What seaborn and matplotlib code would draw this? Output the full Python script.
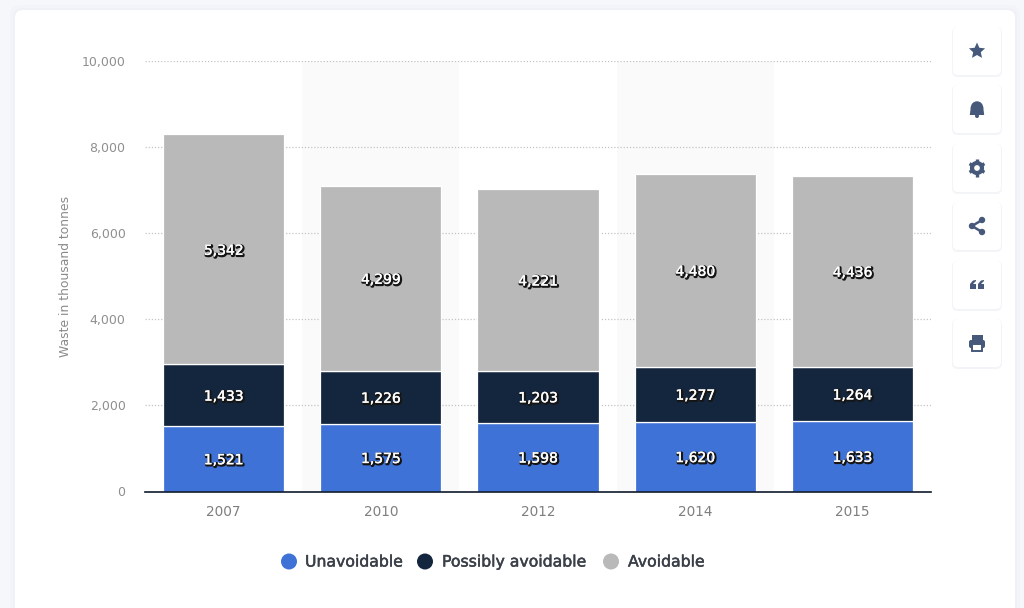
import matplotlib
matplotlib.use("Agg")
import matplotlib.pyplot as plt
import matplotlib.patheffects as pe
from matplotlib.patches import FancyBboxPatch, Circle, Rectangle, Polygon
import seaborn as sns
import pandas as pd
import numpy as np

years = ["2007", "2010", "2012", "2014", "2015"]
unavoidable = [1521, 1575, 1598, 1620, 1633]
possibly = [1433, 1226, 1203, 1277, 1264]
avoidable = [5342, 4299, 4221, 4480, 4436]
series_names = ["Unavoidable", "Possibly avoidable", "Avoidable"]
colors = ["#3f72d6", "#14263d", "#b9b9b9"]
yticks = [0, 2000, 4000, 6000, 8000, 10000]
ylabel = "Waste in thousand tonnes"

W, H = 1024, 608
sns.set_theme(style="white")
plt.rcParams["font.family"] = ["DejaVu Sans"]
fig = plt.figure(figsize=(W / 100, H / 100), dpi=100, facecolor="#f6f7fb")

# page overlay in pixel coordinates
bg = fig.add_axes([0, 0, 1, 1], zorder=0)
bg.set_xlim(0, W); bg.set_ylim(H, 0); bg.axis("off")
for grow, col in [(5, "#f3f4f9"), (2, "#f0f1f7")]:
    bg.add_patch(FancyBboxPatch((15 - grow, 10 - grow), 1000 + 2 * grow, 640,
                                boxstyle="round,pad=0,rounding_size=10", fc=col, ec="none"))
bg.add_patch(FancyBboxPatch((15, 10), 1000, 640, boxstyle="round,pad=0,rounding_size=8",
                            fc="white", ec="none"))
ic = "#46597a"
tops = [27, 85, 144, 202, 261, 319]
for t in tops:
    bg.add_patch(FancyBboxPatch((952, t), 50, 50, boxstyle="round,pad=0,rounding_size=6",
                                fc="#f3f4f8", ec="none"))
    bg.add_patch(FancyBboxPatch((953, t), 48, 48, boxstyle="round,pad=0,rounding_size=5",
                                fc="white", ec="none"))
cx = 977
# star
c = tops[0] + 24
ang = np.deg2rad(np.arange(10) * 36 - 90)
rad = np.array([8.5, 4.0] * 5)
bg.add_patch(Polygon(np.c_[cx + rad * np.cos(ang), c + rad * np.sin(ang)], fc=ic, ec="none"))
# bell
c = tops[1] + 24
bg.add_patch(Circle((cx, c - 1.5), 6.2, fc=ic, ec="none"))
bg.add_patch(Polygon([(cx - 6.2, c - 2), (cx + 6.2, c - 2), (cx + 7.2, c + 6), (cx - 7.2, c + 6)], fc=ic, ec="none"))
bg.add_patch(Circle((cx, c + 7), 2, fc=ic, ec="none"))
# gear
c = tops[2] + 24
bg.add_patch(Circle((cx, c), 5, fc="white", ec=ic, lw=3.0))
for a in np.deg2rad(np.arange(0, 360, 60) + 30):
    bg.plot([cx + 6 * np.cos(a), cx + 8.6 * np.cos(a)], [c + 6 * np.sin(a), c + 8.6 * np.sin(a)],
            color=ic, lw=2.4, solid_capstyle="butt")
# share
c = tops[3] + 24
pts = [(cx + 5, c - 6), (cx - 5, c), (cx + 5, c + 6)]
bg.plot(*zip(*pts), color=ic, lw=1.8)
for p in pts:
    bg.add_patch(Circle(p, 3.2, fc=ic, ec="none"))
# quote
c = tops[4] + 24
for x in (cx - 7, cx + 1):
    bg.add_patch(Polygon([(x, c + 4), (x + 6, c + 4), (x + 6, c - 1), (x + 3, c - 1), (x + 6, c - 4),
                          (x + 6, c - 5), (x + 3, c - 4.5), (x, c - 1)], fc=ic, ec="none"))
# printer
c = tops[5] + 24
bg.add_patch(FancyBboxPatch((cx - 8, c - 3), 16, 8, boxstyle="round,pad=0,rounding_size=2", fc=ic, ec="none"))
bg.add_patch(Rectangle((cx - 5.5, c - 8), 11, 5, fc=ic, ec="none"))
bg.add_patch(Rectangle((cx - 5, c + 1), 10, 6.5, fc="white", ec=ic, lw=1.4))

# chart
ax = fig.add_axes([145 / W, 1 - 491.5 / H, 786 / W, 430.5 / H], zorder=1)
ax.patch.set_alpha(0)
df = pd.DataFrame({"year": years, "Unavoidable": unavoidable,
                   "Possibly avoidable": possibly, "Avoidable": avoidable})
for i in (1, 3):
    ax.axvspan(i - 0.5, i + 0.5, color="#fafafa", lw=0, zorder=0)
ax.set_axisbelow(True)
ax.yaxis.grid(True, ls=(0, (1, 1.5)), color="#c4c4c4", lw=0.9, zorder=0.5)
ax.xaxis.grid(False)

label_fx = [pe.Stroke(linewidth=2.0, foreground="#151515", offset=(0.7, -0.7)),
            pe.Stroke(linewidth=0.3, foreground="white"), pe.Normal()]
bottom = np.zeros(len(years))
for name, col in zip(series_names, colors):
    vals = df[name].to_numpy()
    sns.barplot(data=df, x="year", y=name, bottom=bottom, color=col, saturation=1,
                width=0.77, edgecolor="white", linewidth=0.9, ax=ax, zorder=2)
    for i, v in enumerate(vals):
        ax.annotate(f"{v:,}", (i, bottom[i] + v / 2), xytext=(0, -1), textcoords="offset points",
                    ha="center", va="center", color="white", fontsize=10, zorder=5,
                    path_effects=label_fx)
    bottom = bottom + vals

ax.set_xlim(-0.5, 4.5)
ax.set_ylim(0, 10000)
ax.set_yticks(yticks)
ax.set_yticklabels([f"{t:,}" for t in yticks])
ax.set_xlabel("")
ax.set_ylabel(ylabel, color="#8a8a8a", fontsize=8.9)
ax.tick_params(axis="y", length=0, pad=14, labelsize=9, labelcolor="#8f8f8f")
ax.tick_params(axis="x", length=0, pad=10, labelsize=9.8, labelcolor="#7f7f7f")
ax.yaxis.set_label_coords(-73 / 786, 0.5)
for s in ("top", "right", "left"):
    ax.spines[s].set_visible(False)
ax.spines["bottom"].set_color("#0f1a2b")
ax.spines["bottom"].set_linewidth(1.2)
ax.spines["bottom"].set_zorder(6)

# legend
legend_fx = [pe.Stroke(linewidth=0.35, foreground="#3a3f48"), pe.Normal()]
for x0, tx, name, col in zip([289, 425, 611], [305, 442, 628], series_names, colors):
    bg.add_patch(Circle((x0, 561.5), 8, fc=col, ec="none"))
    bg.text(tx, 566.5, name, ha="left", va="baseline", fontsize=11.3, color="#3a3f48",
            path_effects=legend_fx)

fig.savefig("out.png", dpi=100, facecolor=fig.get_facecolor())
